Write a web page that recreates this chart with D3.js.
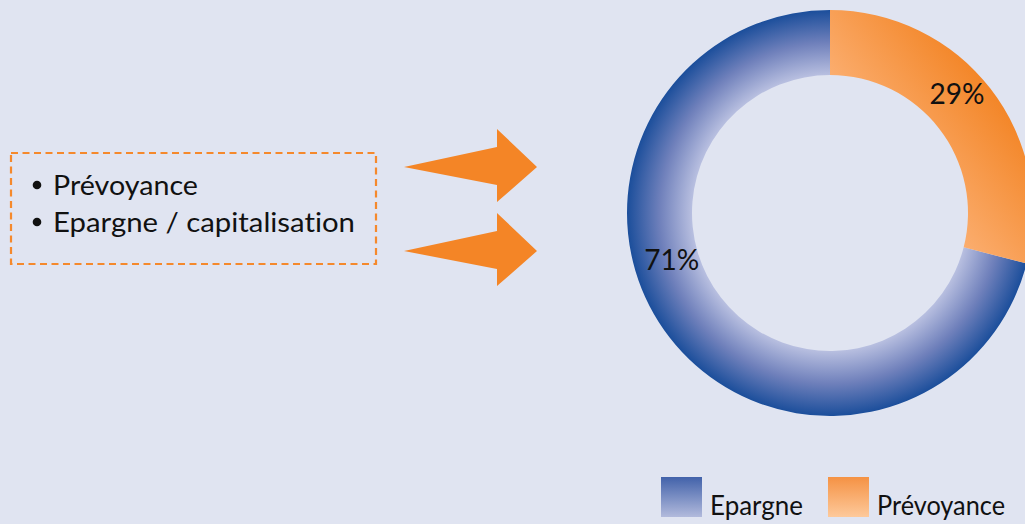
<!DOCTYPE html>
<html>
<head>
<meta charset="utf-8">
<script src="https://cdn.jsdelivr.net/npm/d3@7/dist/d3.min.js"></script>
<style>
  html, body { margin: 0; padding: 0; background: #e0e4f1; }
  svg { display: block; }
  text { font-family: Lato, "Open Sans", sans-serif; fill: #111; font-variant-ligatures: none; }
</style>
</head>
<body>
<svg id="chart" width="1025" height="524"></svg>
<script>
// ---- data ----
const categories = ["Epargne", "Prévoyance"];
const values = [71, 29];
const valueLabels = ["71%", "29%"];
const bulletItems = ["Prévoyance", "Epargne / capitalisation"];

const W = 1025, H = 524;
const svg = d3.select("#chart");
svg.append("rect").attr("width", W).attr("height", H).attr("fill", "#e0e4f1");

const defs = svg.append("defs");
const cx = 830, cy = 213, rOuter = 203, rInner = 138;

// ---- donut layout ----
const data = categories.map((c, i) => ({ cat: c, value: values[i], label: valueLabels[i] }));
const pieOrder = ["Prévoyance", "Epargne"];
const pie = d3.pie().sort((a, b) => pieOrder.indexOf(a.cat) - pieOrder.indexOf(b.cat)).value(d => d.value);
const arcs = pie(data);
const arc = d3.arc().innerRadius(rInner).outerRadius(rOuter);

// ring gradients (in the ring group's local coordinates)
const gBlue = defs.append("radialGradient").attr("id", "gBlue")
  .attr("gradientUnits", "userSpaceOnUse").attr("cx", 0).attr("cy", 0).attr("r", rOuter);
gBlue.append("stop").attr("offset", 0).attr("stop-color", "#c4cae6");
gBlue.append("stop").attr("offset", rInner / rOuter).attr("stop-color", "#b8bfe0");
gBlue.append("stop").attr("offset", 0.84).attr("stop-color", "#6f80bb");
gBlue.append("stop").attr("offset", 1).attr("stop-color", "#1b4e9b");

// orange: linear gradient along the slice bisector
const orangeArc = arcs.find(d => d.data.cat === "Prévoyance");
const mid = (orangeArc.startAngle + orangeArc.endAngle) / 2;
const gOrange = defs.append("linearGradient").attr("id", "gOrange")
  .attr("gradientUnits", "userSpaceOnUse")
  .attr("x1", 85 * Math.sin(mid)).attr("y1", -85 * Math.cos(mid))
  .attr("x2", rOuter * Math.sin(mid)).attr("y2", -rOuter * Math.cos(mid));
gOrange.append("stop").attr("offset", 0).attr("stop-color", "#fbad6e");
gOrange.append("stop").attr("offset", 1).attr("stop-color", "#f38628");

// legend gradients
const lgBlue = defs.append("linearGradient").attr("id", "lgBlue").attr("x1", 0).attr("y1", 0).attr("x2", 0).attr("y2", 1);
lgBlue.append("stop").attr("offset", 0).attr("stop-color", "#4262aa");
lgBlue.append("stop").attr("offset", 1).attr("stop-color", "#b2badc");
const lgOrange = defs.append("linearGradient").attr("id", "lgOrange").attr("x1", 0).attr("y1", 0).attr("x2", 0).attr("y2", 1);
lgOrange.append("stop").attr("offset", 0).attr("stop-color", "#f59244");
lgOrange.append("stop").attr("offset", 1).attr("stop-color", "#fdc99b");

const fills = { "Epargne": "url(#gBlue)", "Prévoyance": "url(#gOrange)" };
const legendFills = { "Epargne": "url(#lgBlue)", "Prévoyance": "url(#lgOrange)" };

const g = svg.append("g").attr("transform", `translate(${cx},${cy})`);
arcs.forEach(d => {
  g.append("path").attr("d", arc(d)).attr("fill", fills[d.data.cat]);
});

// label placement: angle shift (deg) from slice mid, and radius
const labelShift = [21.4, -5.3];
const labelRadius = [165, 174];
arcs.forEach(d => {
  const i = categories.indexOf(d.data.cat);
  const a = (d.startAngle + d.endAngle) / 2 + labelShift[i] * Math.PI / 180;
  svg.append("text")
    .attr("text-anchor", "middle")
    .attr("font-size", 28)
    .attr("x", cx + labelRadius[i] * Math.sin(a))
    .attr("y", cy - labelRadius[i] * Math.cos(a) + 10)
    .attr("textLength", 55).attr("lengthAdjust", "spacingAndGlyphs")
    .text(d.data.label);
});

// ---- dashed box with bullets ----
svg.append("rect")
  .attr("x", 11).attr("y", 153).attr("width", 365).attr("height", 111)
  .attr("fill", "none").attr("stroke", "#f5892c").attr("stroke-width", 2.2)
  .attr("stroke-dasharray", "7,4.5");

const bulletY = [195, 232];
const bulletW = [145, 302];
bulletItems.forEach((t, i) => {
  svg.append("circle").attr("cx", 37).attr("cy", bulletY[i] - 10).attr("r", 4.3).attr("fill", "#111");
  svg.append("text").attr("x", 53).attr("y", bulletY[i]).attr("font-size", 27)
    .attr("textLength", bulletW[i]).attr("lengthAdjust", "spacingAndGlyphs").text(t);
});

// ---- arrows ----
const arrowY = [167, 251];
const arrowShape = [[-133, 0], [-40, -20], [-40, -38], [0, 0], [-40, 35], [-40, 18]];
arrowY.forEach(y => {
  svg.append("path")
    .attr("d", d3.line()(arrowShape.map(([dx, dy]) => [537 + dx, y + dy])) + "Z")
    .attr("fill", "#f48526");
});

// ---- legend ----
const legendX = [661, 828];
const legendTextW = [93, 128];
categories.forEach((c, i) => {
  svg.append("rect").attr("x", legendX[i]).attr("y", 477).attr("width", 41).attr("height", 40)
    .attr("fill", legendFills[c]);
  svg.append("text").attr("x", legendX[i] + 49).attr("y", 515).attr("font-size", 26)
    .attr("textLength", legendTextW[i]).attr("lengthAdjust", "spacingAndGlyphs").text(c);
});
</script>
</body>
</html>
